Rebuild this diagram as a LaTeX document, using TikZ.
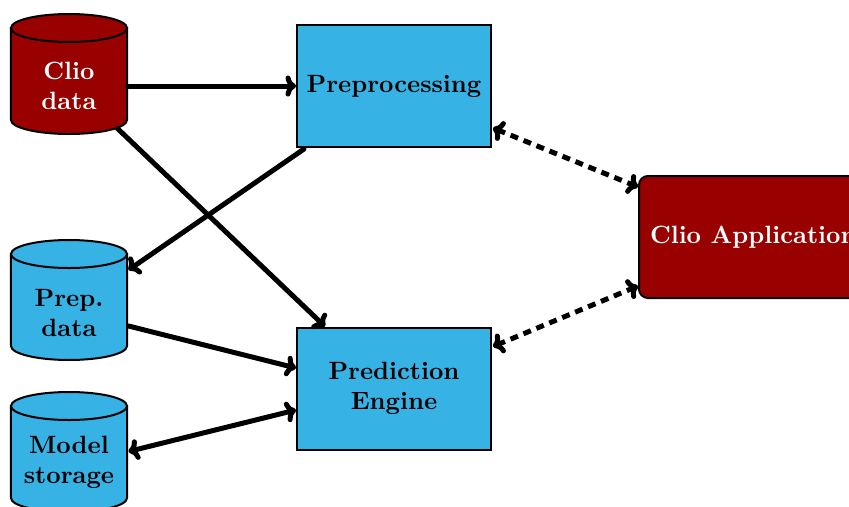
\documentclass[tikz,border=0pt]{standalone}
\usepackage{tikz}
\usetikzlibrary{arrows.meta}
\definecolor{cliored}{RGB}{153,0,0}
\definecolor{clioblue}{RGB}{54,178,228}
\tikzset{
  tip/.tip={Computer Modern Rightarrow[round,length=4.2pt,width=8.4pt]},
  conn/.style={line width=2pt,-tip,line cap=round},
  biconn/.style={line width=2pt,tip-tip,line cap=round},
  dconn/.style={line width=2pt,tip-tip,dash pattern=on 3.2pt off 2.4pt},
  procbox/.style={draw,thick,fill=clioblue,minimum width=77.6pt,minimum height=48.8pt,font=\bfseries,align=center,inner sep=0pt},
  appbox/.style={draw,thick,fill=cliored,rounded corners=3.6pt,minimum height=48.8pt,inner xsep=4.4pt,font=\bfseries,text=white},
  cyltext/.style={font=\bfseries,align=center},
  cylbound/.style={minimum width=46.4pt,minimum height=47.6pt,inner sep=0pt}
}
% #1 centre x, #2 top y, #3 colour
\newcommand{\dbdrum}[3]{%
  \filldraw[thick,fill=#3] (#1-58,#2+14) -- (#1-58,#2+106)
    arc[start angle=180,end angle=360,x radius=23.2pt,y radius=5.6pt] -- (#1+58,#2+14) -- cycle;
  \filldraw[thick,fill=#3] (#1,#2+14) ellipse[x radius=23.2pt,y radius=5.6pt];
}
\begin{document}
\begin{tikzpicture}[x=0.4pt,y=-0.4pt]
\useasboundingbox (0,0) rectangle (849,507);
\fill[white] (0,0) rectangle (849,507);
% cylinders
\dbdrum{69}{14}{cliored}
\dbdrum{69}{240}{clioblue}
\dbdrum{69}{392}{clioblue}
\node[cylbound] (cd) at (69,73.5) {};
\node[cylbound] (pd) at (69,301) {};
\node[cylbound] (ms) at (69,451.5) {};
\node[cyltext,text=white] (cdt) at (69,86) {Clio\\data};
\node[cyltext] (pdt) at (69,313) {Prep.\\data};
\node[cyltext] (mst) at (69,462) {Model\\storage};
% boxes
\node[procbox] (pre) at (394,86) {Preprocessing};
\node[procbox] (pe) at (394,388.5) {Prediction\\Engine};
\node[appbox,anchor=west] (app) at (638,237) {Clio Application};
% connectors
\draw[conn] (pre.west -| cd.east) -- (pre.west);
\draw[conn] ([shift={(-10,-5)}]cd.south east) -- ([shift={(29,0)}]pe.north west);
\draw[conn] ([shift={(8,1)}]pre.south west) -- ([shift={(1,-31)}]pd.east);
\draw[conn] ([shift={(1,25)}]pd.east) -- ([shift={(0,-20.5)}]pe.west);
\draw[biconn] ([shift={(1,0)}]ms.east) -- ([shift={(0,21.5)}]pe.west);
\draw[dconn] ([shift={(1,-20)}]pre.south east) -- ([shift={(0,12)}]app.north west);
\draw[dconn] ([shift={(1,20)}]pe.north east) -- ([shift={(0,-13)}]app.south west);
\end{tikzpicture}
\end{document}
